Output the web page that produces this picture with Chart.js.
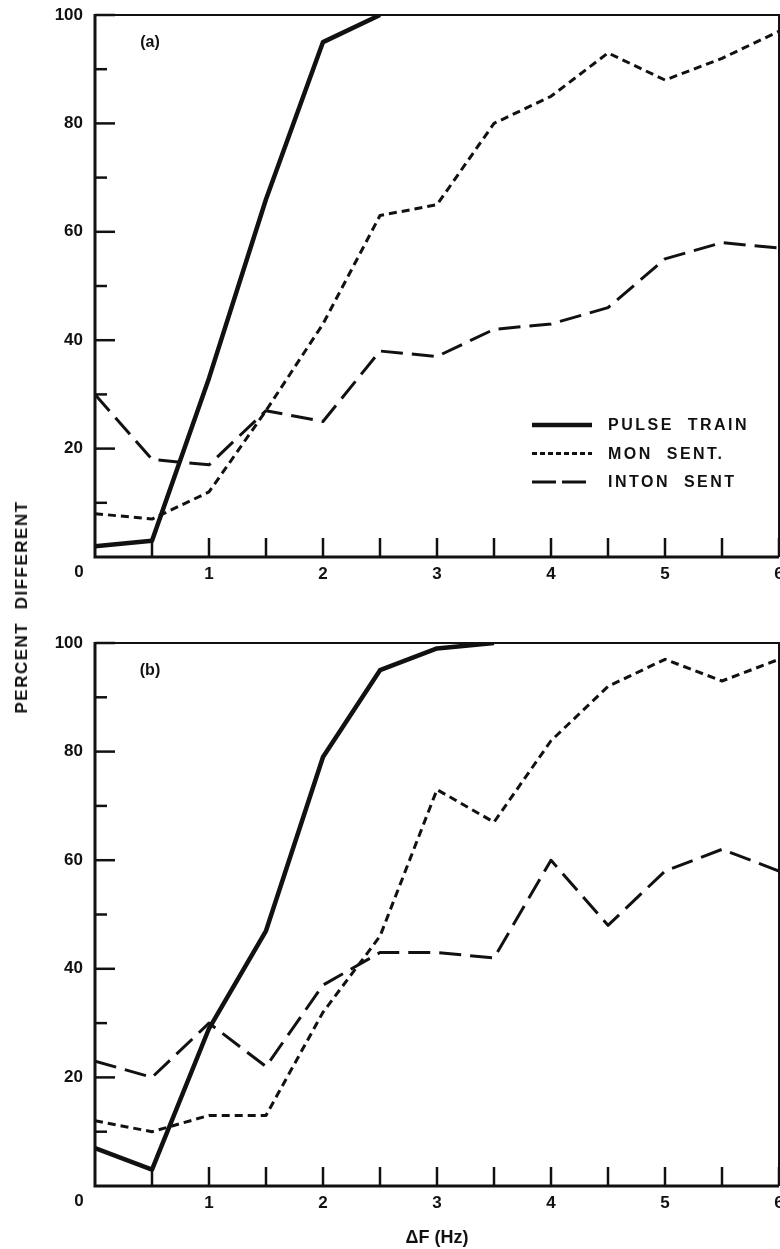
<!DOCTYPE html>
<html>
<head>
<meta charset="utf-8">
<script src="https://cdn.jsdelivr.net/npm/chart.js@4.4.1/dist/chart.umd.min.js"></script>
<style>
    body { margin: 0; background: #fff; }
    #wrap { position: relative; width: 780px; height: 1249px; overflow: hidden; }
    #chartA { position: absolute; left: 0; top: 0; }
    #chartB { position: absolute; left: 0; top: 600px; }
    #ylabel {
        position: absolute; left: 22px; top: 607px;
        transform: translate(-50%, -50%) rotate(-90deg);
        font: bold 17px "Liberation Sans", Arial, sans-serif;
        letter-spacing: 1.5px; white-space: pre; color: #111;
    }
</style>
</head>
<body>
<div id="wrap">
    <canvas id="chartA" width="780" height="600"></canvas>
    <canvas id="chartB" width="780" height="649"></canvas>
    <div id="ylabel">PERCENT  DIFFERENT</div>
</div>
<script>
const deltaF = [0, 0.5, 1, 1.5, 2, 2.5, 3, 3.5, 4, 4.5, 5, 5.5, 6]

// panel (a)
const pulseA = [2, 3, 33, 66, 95, 100, null, null, null, null, null, null, null]
const monA = [8, 7, 12, 27, 43, 63, 65, 80, 85, 93, 88, 92, 97]
const intonA = [30, 18, 17, 27, 25, 38, 37, 42, 43, 46, 55, 58, 57]

// panel (b)
const pulseB = [7, 3, 29, 47, 79, 95, 99, 100, null, null, null, null, null]
const monB = [12, 10, 13, 13, 32, 46, 73, 67, 82, 92, 97, 93, 97]
const intonB = [23, 20, 30, 22, 37, 43, 43, 42, 60, 48, 58, 62, 58]

const seriesNames = ["PULSE  TRAIN", "MON  SENT.", "INTON  SENT"]
const yMajorTicks = [20, 40, 60, 80, 100]
const yMinorTicks = [10, 30, 50, 70, 90]
const xTicks = [0.5, 1, 1.5, 2, 2.5, 3, 3.5, 4, 4.5, 5, 5.5, 6]

const INK = "#111"
const FONT = "'Liberation Sans', Arial, sans-serif"

const toPoints = values => deltaF.map((x, i) => ({ x, y: values[i] }))

function makeDatasets(pulse, mon, inton) {
    return [
        { label: seriesNames[0], data: toPoints(pulse), borderWidth: 4.5, borderDash: [] },
        { label: seriesNames[1], data: toPoints(mon), borderWidth: 3, borderDash: [8, 5] },
        { label: seriesNames[2], data: toPoints(inton), borderWidth: 3, borderDash: [22, 9] },
    ].map(ds => ({
        ...ds,
        borderColor: INK,
        pointRadius: 0,
        tension: 0,
        spanGaps: false,
        borderCapStyle: "butt",
        borderJoinStyle: "round",
    }))
}

const framePlugin = {
    id: "frame",
    afterDatasetsDraw(chart, args, opts) {
        const { ctx, chartArea, scales: { x, y } } = chart
        const { left, right, top, bottom } = chartArea
        ctx.save()
        ctx.strokeStyle = INK
        ctx.setLineDash([])

        ctx.lineWidth = 2
        ctx.beginPath()
        ctx.moveTo(left, top)
        ctx.lineTo(right, top)
        ctx.lineTo(right, bottom)
        ctx.stroke()

        ctx.lineWidth = 3
        ctx.beginPath()
        ctx.moveTo(left, top - 1)
        ctx.lineTo(left, bottom)
        ctx.lineTo(right, bottom)
        ctx.stroke()

        ctx.lineWidth = 2.5
        yMajorTicks.forEach(v => {
            const py = y.getPixelForValue(v)
            ctx.beginPath(); ctx.moveTo(left, py); ctx.lineTo(left + 20, py); ctx.stroke()
        })
        yMinorTicks.forEach(v => {
            const py = y.getPixelForValue(v)
            ctx.beginPath(); ctx.moveTo(left, py); ctx.lineTo(left + 12, py); ctx.stroke()
        })
        xTicks.forEach(v => {
            const px = x.getPixelForValue(v)
            ctx.beginPath(); ctx.moveTo(px, bottom); ctx.lineTo(px, bottom - 19); ctx.stroke()
        })

        ctx.fillStyle = INK
        ctx.font = "bold 16px " + FONT
        ctx.textAlign = "center"
        ctx.textBaseline = "middle"
        ctx.fillText(opts.panel, left + 55, top + 28)
        ctx.font = "bold 17px " + FONT
        ctx.fillText("0", left - 16, bottom + 15)

        if (opts.legend) {
            ctx.font = "bold 16px " + FONT
            ctx.textAlign = "left"
            ctx.letterSpacing = "2.5px"
            chart.data.datasets.forEach((ds, i) => {
                const ly = 425 + i * 28.5
                ctx.lineWidth = ds.borderWidth
                ctx.setLineDash(i == 2 ? [24, 6] : i == 1 ? [5, 3] : [])
                ctx.beginPath(); ctx.moveTo(532, ly); ctx.lineTo(592, ly); ctx.stroke()
                ctx.fillText(ds.label, 608, ly + 1)
            })
        }
        ctx.restore()
    },
}

function makeChart(canvasId, datasets, panel, legend, xTitle, padTop, xHeight) {
    return new Chart(document.getElementById(canvasId), {
        type: "line",
        data: { datasets },
        options: {
            responsive: false,
            animation: false,
            layout: { padding: { top: padTop, right: 1, left: 0, bottom: 0 } },
            plugins: {
                legend: { display: false },
                tooltip: { enabled: false },
                frame: { panel, legend },
            },
            scales: {
                x: {
                    type: "linear",
                    min: 0,
                    max: 6,
                    grid: { display: false, drawTicks: false },
                    border: { display: false },
                    ticks: {
                        stepSize: 1,
                        padding: 7,
                        color: INK,
                        font: { family: FONT, size: 17, weight: "bold" },
                        callback: v => (v == 0 ? "" : v),
                    },
                    title: {
                        display: !!xTitle,
                        text: xTitle,
                        color: INK,
                        font: { family: FONT, size: 18, weight: "bold" },
                        padding: { top: 0, bottom: 0 },
                    },
                    afterFit: scale => {
                        scale.height = xHeight
                        scale.paddingLeft = 0
                        scale.paddingRight = 0
                    },
                },
                y: {
                    min: 0,
                    max: 100,
                    grid: { display: false, drawTicks: false },
                    border: { display: false },
                    ticks: {
                        stepSize: 20,
                        padding: 12,
                        color: INK,
                        font: { family: FONT, size: 17, weight: "bold" },
                        callback: v => (v == 0 ? "" : v),
                    },
                    afterFit: scale => {
                        scale.width = 95
                        scale.paddingTop = 0
                        scale.paddingBottom = 0
                    },
                },
            },
        },
        plugins: [framePlugin],
    })
}

makeChart("chartA", makeDatasets(pulseA, monA, intonA), "(a)", true, "", 15, 43)
makeChart("chartB", makeDatasets(pulseB, monB, intonB), "(b)", false, "ΔF (Hz)", 43, 63)
</script>
</body>
</html>
